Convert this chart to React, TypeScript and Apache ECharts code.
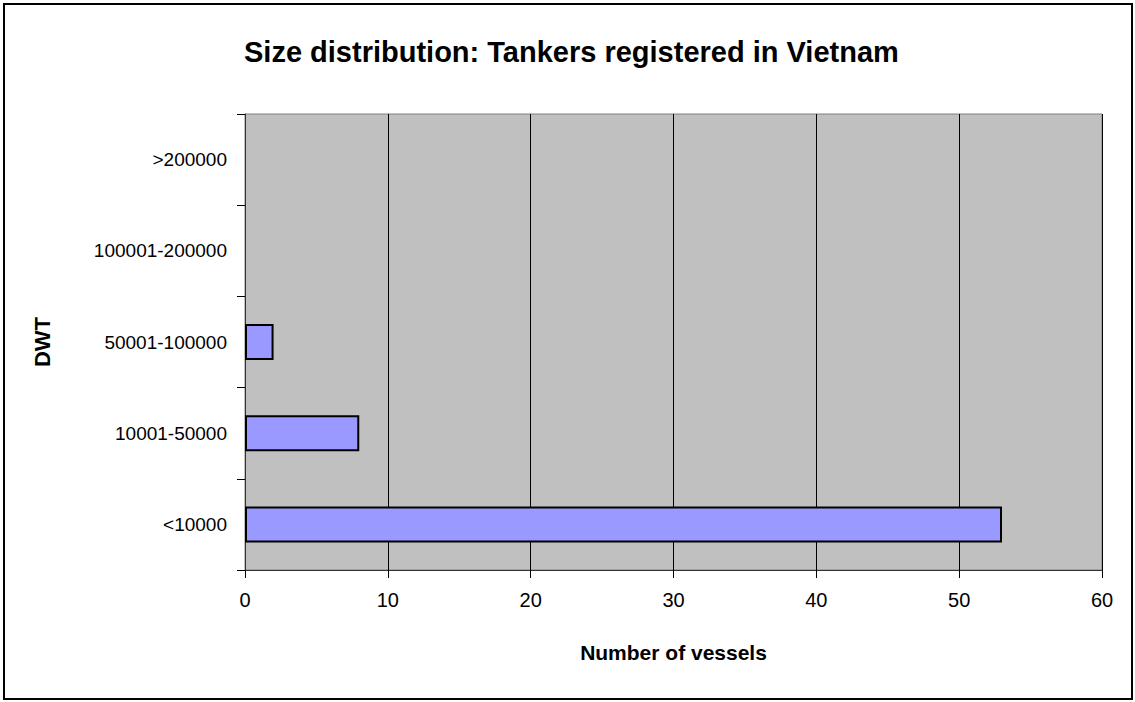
import React, { useEffect, useRef } from "react";
import * as echarts from "echarts";

const categories = ["<10000", "10001-50000", "50001-100000", "100001-200000", ">200000"];
const vessels = [53, 8, 2, 0, 0];
const titleText = "Size distribution: Tankers registered in Vietnam";
const xName = "Number of vessels";
const yName = "DWT";

export default function App() {
  const ref = useRef<HTMLDivElement>(null);
  useEffect(() => {
    document.body.style.margin = "0";
    const chart = echarts.init(ref.current!, null, { renderer: "svg" });
    const font = "'Liberation Sans', Arial, sans-serif";
    chart.setOption({
      animation: false,
      backgroundColor: "#ffffff",
      textStyle: { fontFamily: font },
      title: {
        text: titleText,
        left: 239,
        top: 32,
        textStyle: { fontFamily: font, fontSize: 29, fontWeight: "bold", color: "#000" },
      },
      graphic: [
        {
          type: "rect",
          shape: { x: 4, y: 4, width: 1128, height: 695 },
          style: { fill: "none", stroke: "#000", lineWidth: 2 },
          silent: true,
        },
      ],
      grid: {
        left: 245,
        top: 114,
        right: 33,
        bottom: 132,
        show: true,
        backgroundColor: "#C0C0C0",
        borderColor: "#808080",
        borderWidth: 1,
      },
      xAxis: {
        type: "value",
        min: 0,
        max: 60,
        interval: 10,
        name: xName,
        nameLocation: "middle",
        nameGap: 72,
        nameTextStyle: { fontFamily: font, fontSize: 21, fontWeight: "bold", color: "#000", verticalAlign: "top" },
        axisLine: { show: true, lineStyle: { color: "#333", width: 1 } },
        axisTick: { show: true, length: 8, lineStyle: { color: "#000" } },
        axisLabel: { margin: 20, fontSize: 20, color: "#000", fontFamily: font },
        splitLine: { show: true, lineStyle: { color: "#000", width: 1 } },
      },
      yAxis: {
        type: "category",
        data: categories,
        name: yName,
        nameLocation: "middle",
        nameGap: 192,
        nameRotate: 90,
        nameTextStyle: { fontFamily: font, fontSize: 22, fontWeight: "bold", color: "#000" },
        axisLine: { show: true, lineStyle: { color: "#333", width: 1 } },
        axisTick: { show: true, length: 8, alignWithLabel: false, lineStyle: { color: "#000" } },
        axisLabel: { margin: 18, fontSize: 19, color: "#000", fontFamily: font },
        splitLine: { show: false },
      },
      series: [
        {
          type: "bar",
          data: vessels.map((v) => ({
            value: v,
            itemStyle: { borderWidth: v === 0 ? 0 : 2 },
          })),
          barWidth: 36,
          itemStyle: { color: "#9999FF", borderColor: "#000", borderWidth: 2 },
        },
      ],
    });
    return () => chart.dispose();
  }, []);
  return <div ref={ref} style={{ width: 1135, height: 702 }} />;
}
